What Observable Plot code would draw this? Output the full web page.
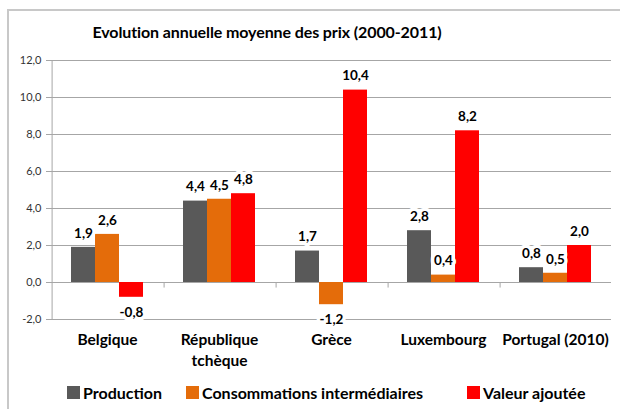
<!DOCTYPE html>
<html>
<head>
<meta charset="utf-8">
<script src="https://cdn.jsdelivr.net/npm/d3@7"></script>
<script src="https://cdn.jsdelivr.net/npm/@observablehq/plot@0.6"></script>
<style>
  html, body { margin: 0; padding: 0; background: #fff; }
  #wrap { position: relative; width: 620px; height: 409px; overflow: hidden; font-family: Lato, "Open Sans", sans-serif; }
  #border { position: absolute; left: 7px; top: 9px; width: 640px; height: 420px; border: 2px solid #c8c8c8; box-sizing: border-box; }
  #title { position: absolute; left: 0; width: 534px; top: 22px; text-align: center; font-size: 16px; letter-spacing: -0.1px; font-weight: bold; color: #000; }
  #chart { position: absolute; left: 0; top: 0; }
  .leg { position: absolute; top: 383px; display: flex; align-items: center; font-size: 16px; font-weight: bold; color: #000; white-space: nowrap; }
  .sw { width: 13px; height: 13px; margin-right: 3px; }
</style>
</head>
<body>
<div id="wrap">
  <div id="border"></div>
  <div id="chart"></div>
  <div id="title">Evolution annuelle moyenne des prix (2000-2011)</div>
  <div id="legend"></div>
</div>
<script>
const categories = ["Belgique", "République\ntchèque", "Grèce", "Luxembourg", "Portugal (2010)"];
const series = ["Production", "Consommations intermédiaires", "Valeur ajoutée"];
const production = [1.9, 4.4, 1.7, 2.8, 0.8];
const consommations = [2.6, 4.5, -1.2, 0.4, 0.5];
const valeurAjoutee = [-0.8, 4.8, 10.4, 8.2, 2.0];
const yTicks = [-2, 0, 2, 4, 6, 8, 10, 12];
const colors = ["#595959", "#E46C0A", "#FF0000"];
const legendLeft = [67, 186, 467];

const values = [production, consommations, valeurAjoutee];
const data = [];
categories.forEach((c, i) => series.forEach((s, j) => data.push({cat: c, series: s, value: values[j][i]})));

const fmt = v => v.toFixed(1).replace(".", ",");
const width = 620, height = 409, mL = 49, mR = 7, mT = 60, mB = 90;
const padOuter = 0.756;
const facetW = (width - mL - mR) / categories.length;
const step = facetW / (series.length + 2 * padOuter);
const edgeOffset = padOuter * step + step / 2;

const chart = Plot.plot({
  width, height,
  marginLeft: mL, marginRight: mR, marginTop: mT, marginBottom: mB,
  style: {fontFamily: "Lato, 'Open Sans', sans-serif", background: "transparent", overflow: "visible"},
  fx: {domain: categories, padding: 0, label: null},
  x: {domain: series, paddingInner: 0, paddingOuter: padOuter, axis: null},
  y: {domain: [-2, 12], label: null},
  color: {domain: series, range: colors},
  marks: [
    Plot.gridY(yTicks, {stroke: "#a6a6a6", strokeOpacity: 1, strokeWidth: 1}),
    Plot.axisY(yTicks, {tickFormat: fmt, fontSize: 11, tickSize: 5, tickPadding: 5, label: null, stroke: "#a6a6a6", fill: "#333"}),
    Plot.ruleX([categories[0]], {fx: d => d, x: () => series[0], y1: -2, y2: 12, dx: -edgeOffset, stroke: "#a6a6a6"}),
    Plot.ruleX(categories.slice(1), {fx: d => d, x: () => series[0], y1: 0, y2: -0.3, dx: -edgeOffset, stroke: "#a6a6a6"}),
    Plot.barY(data, {fx: "cat", x: "series", y: "value", fill: "series", inset: 0}),
    Plot.text(data.filter(d => d.value >= 0), {fx: "cat", x: "series", y: "value", text: d => fmt(d.value), dy: -14, fontSize: 13.5, fontWeight: "bold", fill: "#000", stroke: "white", strokeWidth: 7}),
    Plot.text(data.filter(d => d.value < 0), {fx: "cat", x: "series", y: "value", text: d => fmt(d.value), dy: 15, fontSize: 13.5, fontWeight: "bold", fill: "#000", stroke: "white", strokeWidth: 7}),
    Plot.axisFx({anchor: "bottom", tickSize: 0, tickPadding: 11, fontSize: 15.5, fontWeight: "bold", fill: "#000", lineHeight: 1.35, label: null})
  ]
});
document.getElementById("chart").appendChild(chart);

const legend = document.getElementById("legend");
series.forEach((s, j) => {
  const item = document.createElement("div");
  item.className = "leg";
  item.style.left = legendLeft[j] + "px";
  const sw = document.createElement("div");
  sw.className = "sw";
  sw.style.background = colors[j];
  const label = document.createElement("span");
  label.textContent = s;
  item.appendChild(sw);
  item.appendChild(label);
  legend.appendChild(item);
});
</script>
</body>
</html>
